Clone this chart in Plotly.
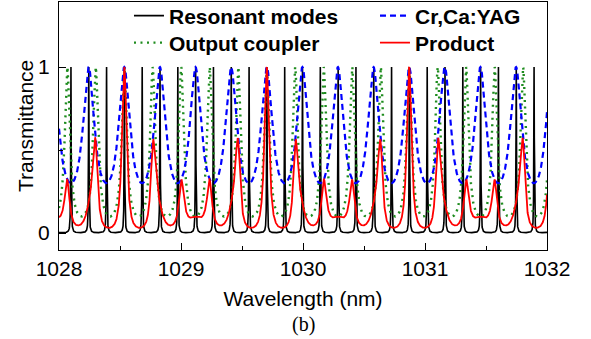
import numpy as np
import plotly.graph_objects as go

# ---- data ----
# peak wavelengths (nm) of each transmission comb
resonant_peaks = [1028.098, 1028.244, 1028.390, 1028.536, 1028.682, 1028.828, 1028.974,
                  1029.120, 1029.266, 1029.412, 1029.558, 1029.704, 1029.850, 1029.996,
                  1030.142, 1030.288, 1030.434, 1030.580, 1030.726, 1030.872, 1031.018,
                  1031.164, 1031.310, 1031.456, 1031.602, 1031.748, 1031.894]
yag_peaks = [1027.951, 1028.243, 1028.535, 1028.827, 1029.119, 1029.411, 1029.703,
             1029.995, 1030.286, 1030.578, 1030.870, 1031.162, 1031.454, 1031.746, 1032.038]
oc_peaks = [1027.834, 1028.068, 1028.301, 1028.535, 1028.768, 1029.002, 1029.235,
            1029.469, 1029.703, 1029.936, 1030.170, 1030.403, 1030.637, 1030.870,
            1031.104, 1031.337, 1031.571, 1031.804, 1032.038]
# minimum transmittance between peaks
resonant_min = 0.0025
yag_min = 0.30
oc_min = 0.10

series_names = ["Resonant modes", "Cr,Ca:YAG", "Output coupler", "Product"]
x_ticks = [1028, 1029, 1030, 1031, 1032]
y_ticks = [0, 1]


def comb(lam, peaks, tmin):
    peaks = np.asarray(peaks)
    fsr = np.median(np.diff(peaks))
    F = 1.0 / tmin - 1.0
    d = np.min(np.abs(lam[:, None] - peaks[None, :]), axis=1)
    return 1.0 / (1.0 + F * np.sin(np.pi * d / fsr) ** 2)


lam = np.union1d(np.linspace(1028, 1032, 10001), resonant_peaks)
lam = lam[(lam >= 1028) & (lam <= 1032)]
t_res = comb(lam, resonant_peaks, resonant_min)
t_yag = comb(lam, yag_peaks, yag_min)
t_oc = comb(lam, oc_peaks, oc_min)
t_prod = t_yag * t_oc

fig = go.Figure()
fig.add_trace(go.Scatter(x=lam, y=t_res, mode="lines", name=series_names[0], legend="legend",
                         line=dict(color="black", width=1.6)))
fig.add_trace(go.Scatter(x=lam, y=t_oc, mode="lines", name=series_names[2], legend="legend3",
                         line=dict(color="#1e8c1e", width=2.4, dash="2px,4.5px")))
fig.add_trace(go.Scatter(x=lam, y=t_yag, mode="lines", name=series_names[1], legend="legend2",
                         line=dict(color="#0000ff", width=2.2, dash="6px,4px")))
fig.add_trace(go.Scatter(x=lam, y=t_prod, mode="lines", name=series_names[3], legend="legend4",
                         line=dict(color="#ff0000", width=1.8)))

font_main = "Liberation Sans, Arial, sans-serif"
leg_font = dict(family=font_main, size=21, color="black", weight="bold")


def leg(x, y):
    return dict(x=x, xanchor="left", y=y, yanchor="middle", font=leg_font,
                bgcolor="rgba(0,0,0,0)", borderwidth=0)


fig.update_layout(
    template="none",
    width=591, height=339,
    margin=dict(l=59, r=44, t=2, b=89, autoexpand=False),
    paper_bgcolor="white", plot_bgcolor="white",
    font=dict(family=font_main, size=21, color="black"),
    showlegend=True,
    legend=leg(0.1434, 0.9435),
    legend2=leg(0.6475, 0.9435),
    legend3=leg(0.1434, 0.8346),
    legend4=leg(0.6475, 0.8346),
    annotations=[
        dict(text="(b)", xref="paper", yref="paper", x=0.5, y=-0.30,
             xanchor="center", yanchor="middle", showarrow=False,
             font=dict(family="Liberation Serif, Times New Roman, serif", size=20)),
        dict(text="Transmittance", xref="paper", yref="paper", x=-0.0697, y=0.5,
             xanchor="center", yanchor="middle", showarrow=False, textangle=-90,
             font=dict(family=font_main, size=21)),
    ],
)
fig.update_xaxes(range=[1028, 1032], tickmode="array", tickvals=x_ticks, automargin=False,
                 ticks="inside", ticklen=7, tickwidth=1, tickcolor="black",
                 minor=dict(dtick=0.5, tick0=1028, ticks="inside", ticklen=4, tickcolor="black"),
                 showline=True, linecolor="black", linewidth=1.2, mirror=True,
                 showgrid=False, zeroline=False,
                 tickfont=dict(size=21),
                 title=dict(text="Wavelength (nm)", font=dict(size=21), standoff=12))
fig.update_yaxes(range=[-0.102, 1.392], tickmode="array", tickvals=y_ticks, automargin=False,
                 ticks="inside", ticklen=7, tickwidth=1, tickcolor="black",
                 minor=dict(tickvals=[0.5], ticks="inside", ticklen=4, tickcolor="black"),
                 showline=True, linecolor="black", linewidth=1.2, mirror=True,
                 showgrid=False, zeroline=False, ticklabelstandoff=4,
                 tickfont=dict(size=21))

fig.write_html("out.html", config={"displayModeBar": False},
               post_script="document.body.style.margin='0';")
